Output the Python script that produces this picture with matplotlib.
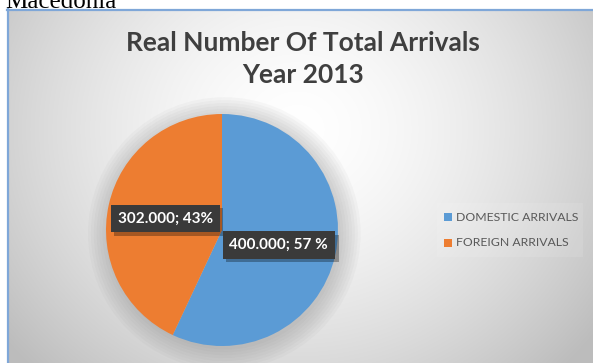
import numpy as np
import matplotlib
matplotlib.use('Agg')
import matplotlib.pyplot as plt
import matplotlib.patheffects as pe
from matplotlib.patches import Rectangle, Circle

# arrivals in 2013
categories = ['DOMESTIC ARRIVALS', 'FOREIGN ARRIVALS']
arrivals = [400000, 302000]
colors = ['#5B9BD5', '#ED7D31']
pct_sep = [' ', '']

W, H = 593, 363
fig = plt.figure(figsize=(W / 100, H / 100), dpi=100, facecolor='white')

# chart area background: soft radial gradient
bg = fig.add_axes([7 / W, 0, (W - 7) / W, (H - 9) / H])
bg.set_axis_off()
yy, xx = np.mgrid[0:H - 9, 0:W - 7]
d = np.hypot((xx - 290) / 1.1, yy - 120)
shade = np.clip(1.0 - 0.25 * (d / 330) ** 1.6, 0.74, 1.0)
bg.imshow(np.dstack([shade, shade, shade]), aspect='auto', extent=(0, 1, 0, 1),
          transform=bg.transAxes, interpolation='bilinear')
bg.set_xlim(0, 1)
bg.set_ylim(0, 1)
bg.plot([0.002, 0.002], [0, 1], color='#7FA7D8', lw=1.6, transform=bg.transAxes, clip_on=False)
bg.plot([0, 1], [0.998, 0.998], color='#7FA7D8', lw=1.6, transform=bg.transAxes, clip_on=False)

fig.text(5 / W, 1 - 8 / H, 'Macedonia', family='Liberation Serif', fontsize=18,
         color='black', va='baseline', ha='left')

fig.text(303 / W, 1 - 43 / H, 'Real Number Of Total Arrivals', family='Lato',
         weight='bold', fontsize=19, color='#3F3F3F', ha='center', va='center')
fig.text(303 / W, 1 - 75 / H, 'Year 2013', family='Lato',
         weight='bold', fontsize=19, color='#3F3F3F', ha='center', va='center')

# pie
cx, cy, r = 222, 230, 116
ax = fig.add_axes([(cx - 1.25 * r) / W, (H - cy - 1.25 * r) / H, 2.5 * r / W, 2.5 * r / H])
ax.set_axis_off()
for k in range(8):
    ax.add_patch(Circle((0.02, -0.03), 1.0 + 0.025 * k, color='#808080',
                        alpha=0.05, lw=0, zorder=0))
wedges, _ = ax.pie(arrivals, colors=colors, startangle=90, counterclock=False,
                   radius=1.0, wedgeprops=dict(linewidth=0), frame=False)
ax.set_xlim(-1.25, 1.25)
ax.set_ylim(-1.25, 1.25)

total = sum(arrivals)
label_pos = [(0.49, -0.13), (-0.49, 0.10)]
for v, sep, (lx, ly) in zip(arrivals, pct_sep, label_pos):
    pct = round(100 * v / total)
    txt = f"{v / 1000:.3f}; {pct}{sep}%"
    t = ax.text(lx, ly, txt, family='Lato', weight='bold', fontsize=11, color='white',
                ha='center', va='center', zorder=5,
                bbox=dict(boxstyle='square,pad=0.45', fc='#3A3A3A', ec='none'))
    t.get_bbox_patch().set_path_effects(
        [pe.SimplePatchShadow(offset=(2.5, -2.5), shadow_rgbFace='black', alpha=0.3),
         pe.Normal()])

# legend
fig.patches.append(Rectangle((437 / W, 1 - 257 / H), 146 / W, 54 / H,
                             transform=fig.transFigure, fc='white', ec='none', alpha=0.1))
lx0 = 444
for i, (name, c) in enumerate(zip(categories, colors)):
    ly = 217 + 26 * i
    fig.patches.append(Rectangle((lx0 / W, 1 - (ly + 4) / H), 8 / W, 8 / H,
                                 transform=fig.transFigure, fc=c, ec='none'))
    fig.text((lx0 + 12) / W, 1 - ly / H, name, family='Lato', fontsize=8.8,
             color='#595959', ha='left', va='center')

fig.savefig('out.png', dpi=100)
